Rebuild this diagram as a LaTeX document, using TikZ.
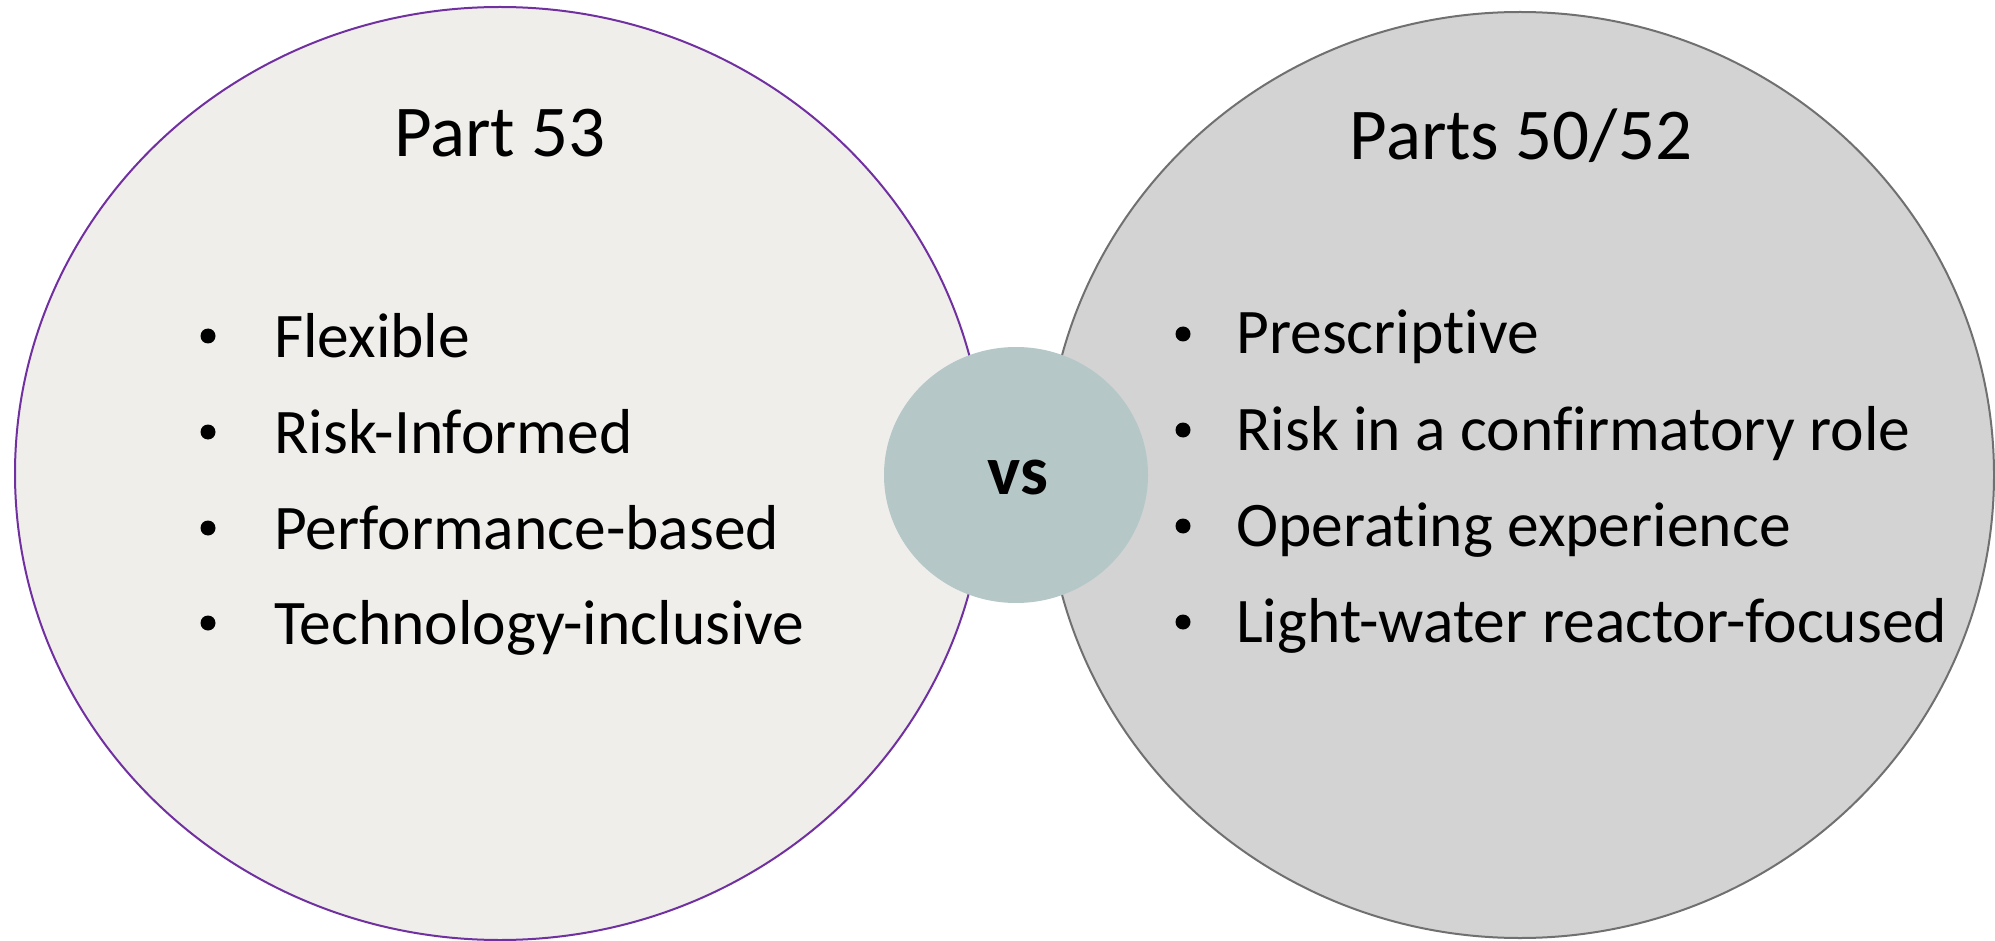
\documentclass[tikz,border=0pt]{standalone}
\usepackage{fontspec}
\setmainfont[Ligatures={NoCommon}]{Carlito}
\usetikzlibrary{shapes.geometric}
\definecolor{leftfill}{HTML}{EFEEEB}
\definecolor{leftline}{HTML}{7030A0}
\definecolor{rightfill}{HTML}{D3D3D3}
\definecolor{rightline}{HTML}{707070}
\definecolor{vsfill}{HTML}{B5C7C7}
\begin{document}
\begin{tikzpicture}[x=1pt,y=-1pt,
  title/.style={anchor=base,inner sep=0pt,font=\fontsize{73}{80}\selectfont},
  item/.style={anchor=base west,inner sep=0pt,font=\fontsize{63.5}{70}\selectfont},
  bul/.style={circle,fill=black,inner sep=0pt,minimum size=15pt}]
\useasboundingbox (0,0) rectangle (1995,941);
\clip (0,0) rectangle (1995,941);
% ellipses
\path[fill=leftfill,draw=leftline,line width=2pt] (500,473.5) ellipse [x radius=485,y radius=466.5];
\path[fill=rightfill,draw=rightline,line width=2pt] (1520,475) ellipse [x radius=474,y radius=463];
% vs
\node[ellipse,fill=vsfill,minimum width=264pt,minimum height=256pt,inner sep=0pt] (vs) at (1016,475) {};
\node[anchor=base,inner sep=0pt,font=\fontsize{70}{80}\selectfont\bfseries] (vst) at (1018,494) {vs};
% titles
\node[title] (t1) at (500,157) {Part 53};
\node[title] (t2) at (1521,160) {Parts 50/52};
% left items
\node[bul] (lb1) at (208,336) {};
\node[item] (l1) at (274,357) {Flexible};
\node[bul] (lb2) at (208,432) {};
\node[item] (l2) at (274,453) {Risk-Informed};
\node[bul] (lb3) at (208,528) {};
\node[item] (l3) at (274,549) {Performance-based};
\node[bul] (lb4) at (208,623) {};
\node[item] (l4) at (274,644) {Technology-inclusive};
% right items
\node[bul] (rb1) at (1183,334) {};
\node[item] (r1) at (1236,354) {Prescriptive};
\node[bul] (rb2) at (1183,430) {};
\node[item] (r2) at (1236,450) {Risk in a confirmatory role};
\node[bul] (rb3) at (1183,526) {};
\node[item] (r3) at (1236,546) {Operating experience};
\node[bul] (rb4) at (1183,622) {};
\node[item] (r4) at (1236,642) {Light-water reactor-focused};
\end{tikzpicture}
\end{document}
